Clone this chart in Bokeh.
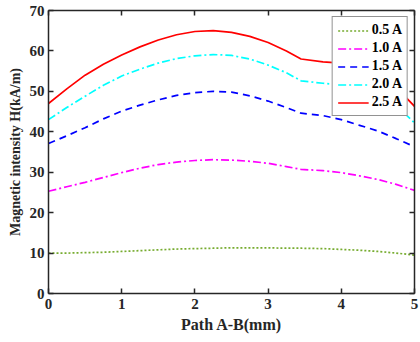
from bokeh.plotting import figure
from bokeh.models import Range1d, LinearAxis, Legend, LegendItem, FixedTicker, CustomJSTickFormatter
from bokeh.embed import file_html
from bokeh.resources import INLINE

x = [0, 0.25, 0.5, 0.75, 1, 1.25, 1.5, 1.75, 2, 2.25, 2.5, 2.75, 3, 3.25, 3.45, 3.75, 4, 4.25, 4.5, 4.75, 5]
h_05 = [10, 10, 10.1, 10.2, 10.4, 10.6, 10.8, 11, 11.1, 11.2, 11.3, 11.3, 11.3, 11.2, 11.2, 11.1, 10.9, 10.7, 10.4, 10, 9.5]
h_10 = [25.3, 26.4, 27.5, 28.7, 29.9, 31, 31.9, 32.5, 32.9, 33.1, 33, 32.7, 32.2, 31.4, 30.7, 30.4, 29.9, 29.1, 28.2, 27, 25.5]
h_15 = [37.1, 39, 41, 43.2, 45.1, 46.6, 47.9, 49, 49.7, 50, 49.8, 48.9, 47.6, 46, 44.6, 44, 43, 41.6, 40.2, 38.3, 36.3]
h_20 = [43, 46, 48.8, 51.5, 53.8, 55.5, 57, 58.1, 58.8, 59.1, 58.9, 58, 56.5, 54.6, 52.6, 52, 51.6, 51, 49.5, 46.5, 42.2]
h_25 = [47, 50.6, 54, 56.7, 59, 61, 62.7, 64, 64.8, 65, 64.6, 63.6, 62.1, 60, 58, 57.3, 57, 56.5, 54.5, 51, 46.3]
labels = ["0.5 A", "1.0 A", "1.5 A", "2.0 A", "2.5 A"]
x_ticks = [0, 1, 2, 3, 4, 5]
y_ticks = [0, 10, 20, 30, 40, 50, 60, 70]

FONT = "Liberation Serif"
AX = "#262626"

p = figure(width=420, height=342, output_backend="svg", toolbar_location=None,
           x_range=Range1d(0, 5), y_range=Range1d(0, 70),
           min_border_left=48, min_border_right=6, min_border_top=10, min_border_bottom=49)
p.outline_line_color = None
p.grid.visible = False
p.background_fill_color = "white"

styles = [
    (h_05, "#77ac30", "2 2"),
    (h_10, "#ff00ff", "8 3 2 3"),
    (h_15, "#0000ff", "7 5"),
    (h_20, "#00ffff", "8 3 2 3"),
    (h_25, "#ff0000", "solid"),
]
items = []
for (ys, c, d), lab in zip(styles, labels):
    r = p.line(x, ys, line_color=c, line_width=1.7, line_dash=d)
    items.append(LegendItem(label=lab, renderers=[r]))

for ax in [p.xaxis[0], p.yaxis[0]]:
    ax.major_tick_in = 5
    ax.major_tick_out = 0
    ax.minor_tick_line_color = None
    ax.axis_line_color = AX
    ax.axis_line_width = 1.5
    ax.major_tick_line_color = AX
    ax.major_tick_line_width = 1.5
    ax.major_label_text_font = FONT
    ax.major_label_text_font_style = "bold"
    ax.major_label_text_font_size = "15px"
    ax.major_label_text_color = AX
    ax.axis_label_text_font = FONT
    ax.axis_label_text_font_style = "bold"
    ax.axis_label_text_color = AX

p.xaxis[0].axis_label_text_font_size = "16px"
p.yaxis[0].axis_label_text_font_size = "14px"
p.xaxis[0].ticker = FixedTicker(ticks=x_ticks)
p.yaxis[0].ticker = FixedTicker(ticks=y_ticks)
p.xaxis[0].axis_label = "Path A-B(mm)"
p.yaxis[0].axis_label = "Magnetic intensity H(kA/m)"
p.xaxis[0].axis_label_standoff = 4
p.yaxis[0].axis_label_standoff = 4
p.xaxis[0].major_label_standoff = 5
p.yaxis[0].major_label_standoff = 4

top = LinearAxis(ticker=FixedTicker(ticks=x_ticks), formatter=CustomJSTickFormatter(code="return ''"))
right = LinearAxis(ticker=FixedTicker(ticks=y_ticks), formatter=CustomJSTickFormatter(code="return ''"))
for ax in [top, right]:
    ax.major_tick_in = 5
    ax.major_tick_out = 0
    ax.minor_tick_line_color = None
    ax.axis_line_color = AX
    ax.axis_line_width = 1.5
    ax.major_tick_line_color = AX
    ax.major_tick_line_width = 1.5
    ax.major_label_standoff = 0
    ax.major_label_text_font_size = "1px"
p.add_layout(top, "above")
p.add_layout(right, "right")

leg = Legend(items=items, location="top_right")
leg.label_text_font = FONT
leg.label_text_font_style = "bold"
leg.label_text_font_size = "14px"
leg.label_text_color = "black"
leg.glyph_width = 31
leg.glyph_height = 15
leg.label_height = 15
leg.label_standoff = 3
leg.spacing = 2
leg.padding = 5
leg.margin = 6
leg.border_line_color = AX
leg.border_line_width = 1.5
leg.background_fill_color = "white"
leg.background_fill_alpha = 1
p.add_layout(leg)

open("out.html", "w").write(file_html(p, INLINE))
